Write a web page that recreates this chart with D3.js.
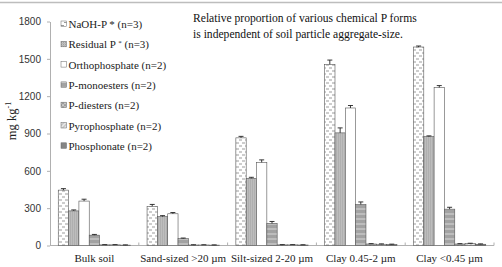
<!DOCTYPE html>
<html>
<head>
<meta charset="utf-8">
<script src="https://cdn.jsdelivr.net/npm/d3@7"></script>
<style>
  body { margin: 0; background: #fff; }
  svg { display: block; }
</style>
</head>
<body>
<div id="chart"></div>
<script>
// Data
const groups = ["Bulk soil", "Sand-sized >20 µm", "Silt-sized 2-20 µm", "Clay 0.45-2 µm", "Clay <0.45 µm"];
const seriesNames = ["NaOH-P", "Residual P", "Orthophosphate", "P-monoesters", "P-diesters", "Pyrophosphate", "Phosphonate"];
const seriesCounts = ["(n=3)", "(n=3)", "(n=2)", "(n=2)", "(n=2)", "(n=2)", "(n=2)"];
const naohP        = [445, 315, 865, 1455, 1595];
const residualP    = [278, 232, 540, 905, 875];
const orthoP       = [357, 255, 668, 1105, 1270];
const monoesters   = [83, 55, 178, 330, 292];
const diesters     = [5, 4, 5, 12, 12];
const pyroP        = [5, 4, 5, 10, 15];
const phosphonate  = [3, 3, 4, 8, 10];
const naohErr      = [12, 15, 12, 35, 8];
const residualErr  = [8, 8, 8, 40, 6];
const orthoErr     = [15, 10, 20, 20, 15];
const monoErr      = [6, 5, 15, 20, 15];
const smallErr     = [2, 2, 2, 3, 3];
const yTicks = [0, 300, 600, 900, 1200, 1500, 1800];
const titleLines = ["Relative proportion of various chemical P forms", "is independent of soil particle aggregate-size."];

const seriesValues = [naohP, residualP, orthoP, monoesters, diesters, pyroP, phosphonate];
const seriesErrors = [naohErr, residualErr, orthoErr, monoErr, smallErr, smallErr, smallErr];

/*******************************/
/*    Declare the constants    */
/*******************************/
const width = 502;
const height = 267;
const margin = {top: 21.5, right: 8, bottom: 21.5, left: 50};
const innerWidth = width - margin.left - margin.right;
const innerHeight = height - margin.top - margin.bottom;
const serif = "Liberation Serif, Times New Roman, serif";
const sans = "Liberation Sans, Arial, sans-serif";

const svg = d3.select("#chart")
  .append("svg")
    .attr("width", width)
    .attr("height", height);

// top rule
svg.append("line")
  .attr("x1", 0).attr("x2", width)
  .attr("y1", 2.5).attr("y2", 2.5)
  .attr("stroke", "#bdbdbd")
  .attr("stroke-width", 1.5);

/*******************************/
/*    Fill patterns            */
/*******************************/
const defs = svg.append("defs");

// NaOH-P : white with small staggered dashes
const pNaoh = defs.append("pattern").attr("id", "pNaoh")
  .attr("patternUnits", "userSpaceOnUse").attr("width", 6).attr("height", 6);
pNaoh.append("rect").attr("width", 6).attr("height", 6).attr("fill", "#fff");
pNaoh.append("rect").attr("x", 0).attr("y", 1).attr("width", 3).attr("height", 1).attr("fill", "#9a9a9a");
pNaoh.append("rect").attr("x", 3).attr("y", 4).attr("width", 3).attr("height", 1).attr("fill", "#9a9a9a");

// Residual P : dense dotted grey
const pRes = defs.append("pattern").attr("id", "pRes")
  .attr("patternUnits", "userSpaceOnUse").attr("width", 2).attr("height", 2);
pRes.append("rect").attr("width", 2).attr("height", 2).attr("fill", "#d2d2d2");
pRes.append("rect").attr("width", 1).attr("height", 1).attr("fill", "#8c8c8c");
pRes.append("rect").attr("x", 1).attr("y", 1).attr("width", 1).attr("height", 1).attr("fill", "#a8a8a8");

// P-monoesters : grey with horizontal light lines
const pMono = defs.append("pattern").attr("id", "pMono")
  .attr("patternUnits", "userSpaceOnUse").attr("width", 4).attr("height", 5);
pMono.append("rect").attr("width", 4).attr("height", 5).attr("fill", "#a2a2a2");
pMono.append("rect").attr("y", 2).attr("width", 4).attr("height", 1).attr("fill", "#d8d8d8");

// P-diesters : light grey with diagonal cross
const pDi = defs.append("pattern").attr("id", "pDi")
  .attr("patternUnits", "userSpaceOnUse").attr("width", 4).attr("height", 4);
pDi.append("rect").attr("width", 4).attr("height", 4).attr("fill", "#c8c8c8");
pDi.append("path").attr("d", "M0,0L4,4M4,0L0,4").attr("stroke", "#8a8a8a").attr("stroke-width", 0.7);

// Pyrophosphate : very light with diagonal
const pPyro = defs.append("pattern").attr("id", "pPyro")
  .attr("patternUnits", "userSpaceOnUse").attr("width", 4).attr("height", 4);
pPyro.append("rect").attr("width", 4).attr("height", 4).attr("fill", "#e4e4e4");
pPyro.append("path").attr("d", "M0,4L4,0").attr("stroke", "#9a9a9a").attr("stroke-width", 0.7);

const fills = ["url(#pNaoh)", "url(#pRes)", "#ffffff", "url(#pMono)", "url(#pDi)", "url(#pPyro)", "#858585"];

/*******************************/
/*    Scales and axes          */
/*******************************/
const innerChart = svg.append("g")
  .attr("transform", `translate(${margin.left}, ${margin.top})`);

const x0 = d3.scaleBand()
  .domain(groups)
  .range([0, innerWidth])
  .padding(0);

const x1 = d3.scaleBand()
  .domain(d3.range(seriesNames.length))
  .range([0, x0.bandwidth()])
  .paddingInner(0)
  .paddingOuter(0.8);

const yScale = d3.scaleLinear()
  .domain([0, 1800])
  .range([innerHeight, 0]);

// y axis
const leftAxis = d3.axisLeft(yScale)
  .tickValues(yTicks)
  .tickFormat(d3.format("d"))
  .tickSize(3)
  .tickPadding(6)
  .tickSizeOuter(0);
const yAxisG = innerChart.append("g").call(leftAxis);
yAxisG.select(".domain").attr("stroke", "#b0b0b0");
yAxisG.selectAll(".tick line").attr("stroke", "#b0b0b0");
yAxisG.selectAll(".tick text")
  .attr("font-family", sans)
  .attr("font-size", 10)
  .attr("fill", "#333");

// x axis : ticks between groups, pointing inward
const xAxisG = innerChart.append("g")
  .attr("transform", `translate(0, ${innerHeight})`);
xAxisG.append("line")
  .attr("x1", 0).attr("x2", innerWidth)
  .attr("stroke", "#b0b0b0");
xAxisG.selectAll(".sep")
  .data(groups)
  .join("line")
    .attr("class", "sep")
    .attr("x1", d => x0(d) + x0.bandwidth())
    .attr("x2", d => x0(d) + x0.bandwidth())
    .attr("y1", 0)
    .attr("y2", -3)
    .attr("stroke", "#b0b0b0");
xAxisG.selectAll(".lbl")
  .data(groups)
  .join("text")
    .attr("class", "lbl")
    .attr("x", d => x0(d) + x0.bandwidth() / 2)
    .attr("y", 16)
    .attr("text-anchor", "middle")
    .attr("font-family", serif)
    .attr("font-size", 11)
    .attr("fill", "#222")
    .text(d => d);

// y axis title
const yTitle = svg.append("text")
  .attr("transform", "translate(16, 121) rotate(-90)")
  .attr("text-anchor", "middle")
  .attr("font-family", serif)
  .attr("font-size", 12.5)
  .attr("fill", "#222");
yTitle.append("tspan").text("mg kg");
yTitle.append("tspan").attr("dy", -5).attr("font-size", 8).text("-1");

/*******************************/
/*    Bars and error bars      */
/*******************************/
seriesNames.forEach((name, si) => {
  const g = innerChart.append("g");
  const vals = seriesValues[si];
  const errs = seriesErrors[si];

  g.selectAll("rect")
    .data(groups)
    .join("rect")
      .attr("x", d => x0(d) + x1(si))
      .attr("y", (d, i) => yScale(vals[i]))
      .attr("width", x1.bandwidth())
      .attr("height", (d, i) => yScale(0) - yScale(vals[i]))
      .attr("fill", fills[si])
      .attr("stroke", "#555")
      .attr("stroke-width", 0.6);

  // plus error bars
  g.selectAll(".err")
    .data(groups)
    .join("path")
      .attr("class", "err")
      .attr("d", (d, i) => {
        const cx = x0(d) + x1(si) + x1.bandwidth() / 2;
        const yTop = yScale(vals[i] + errs[i]);
        const yVal = yScale(vals[i]);
        return `M${cx},${yVal}V${yTop}M${cx - 2.5},${yTop}H${cx + 2.5}`;
      })
      .attr("fill", "none")
      .attr("stroke", "#222")
      .attr("stroke-width", 0.9);
});

/*******************************/
/*    Legend                   */
/*******************************/
const legend = svg.append("g")
  .attr("transform", "translate(61, 24)");
seriesNames.forEach((name, i) => {
  const row = legend.append("g")
    .attr("transform", `translate(0, ${i * 20.3})`);
  row.append("rect")
    .attr("x", 0).attr("y", -3)
    .attr("width", 5.5).attr("height", 5.5)
    .attr("fill", fills[i])
    .attr("stroke", "#666")
    .attr("stroke-width", 0.5);
  const t = row.append("text")
    .attr("x", 7.5).attr("y", 4)
    .attr("font-family", serif)
    .attr("font-size", 11)
    .attr("fill", "#222");
  if (i === 0) {
    t.append("tspan").text(name + " * " + seriesCounts[i]);
  } else if (i === 1) {
    t.append("tspan").text(name + " ");
    t.append("tspan").attr("dy", -3).attr("font-size", 7).text("*");
    t.append("tspan").attr("dy", 3).text(" " + seriesCounts[i]);
  } else {
    t.append("tspan").text(name + " " + seriesCounts[i]);
  }
});

/*******************************/
/*    Annotation               */
/*******************************/
svg.append("g")
  .selectAll("text")
  .data(titleLines)
  .join("text")
    .attr("x", 193)
    .attr("y", (d, i) => 22 + i * 16)
    .attr("font-family", serif)
    .attr("font-size", 11.6)
    .attr("fill", "#111")
    .text(d => d);
</script>
</body>
</html>
